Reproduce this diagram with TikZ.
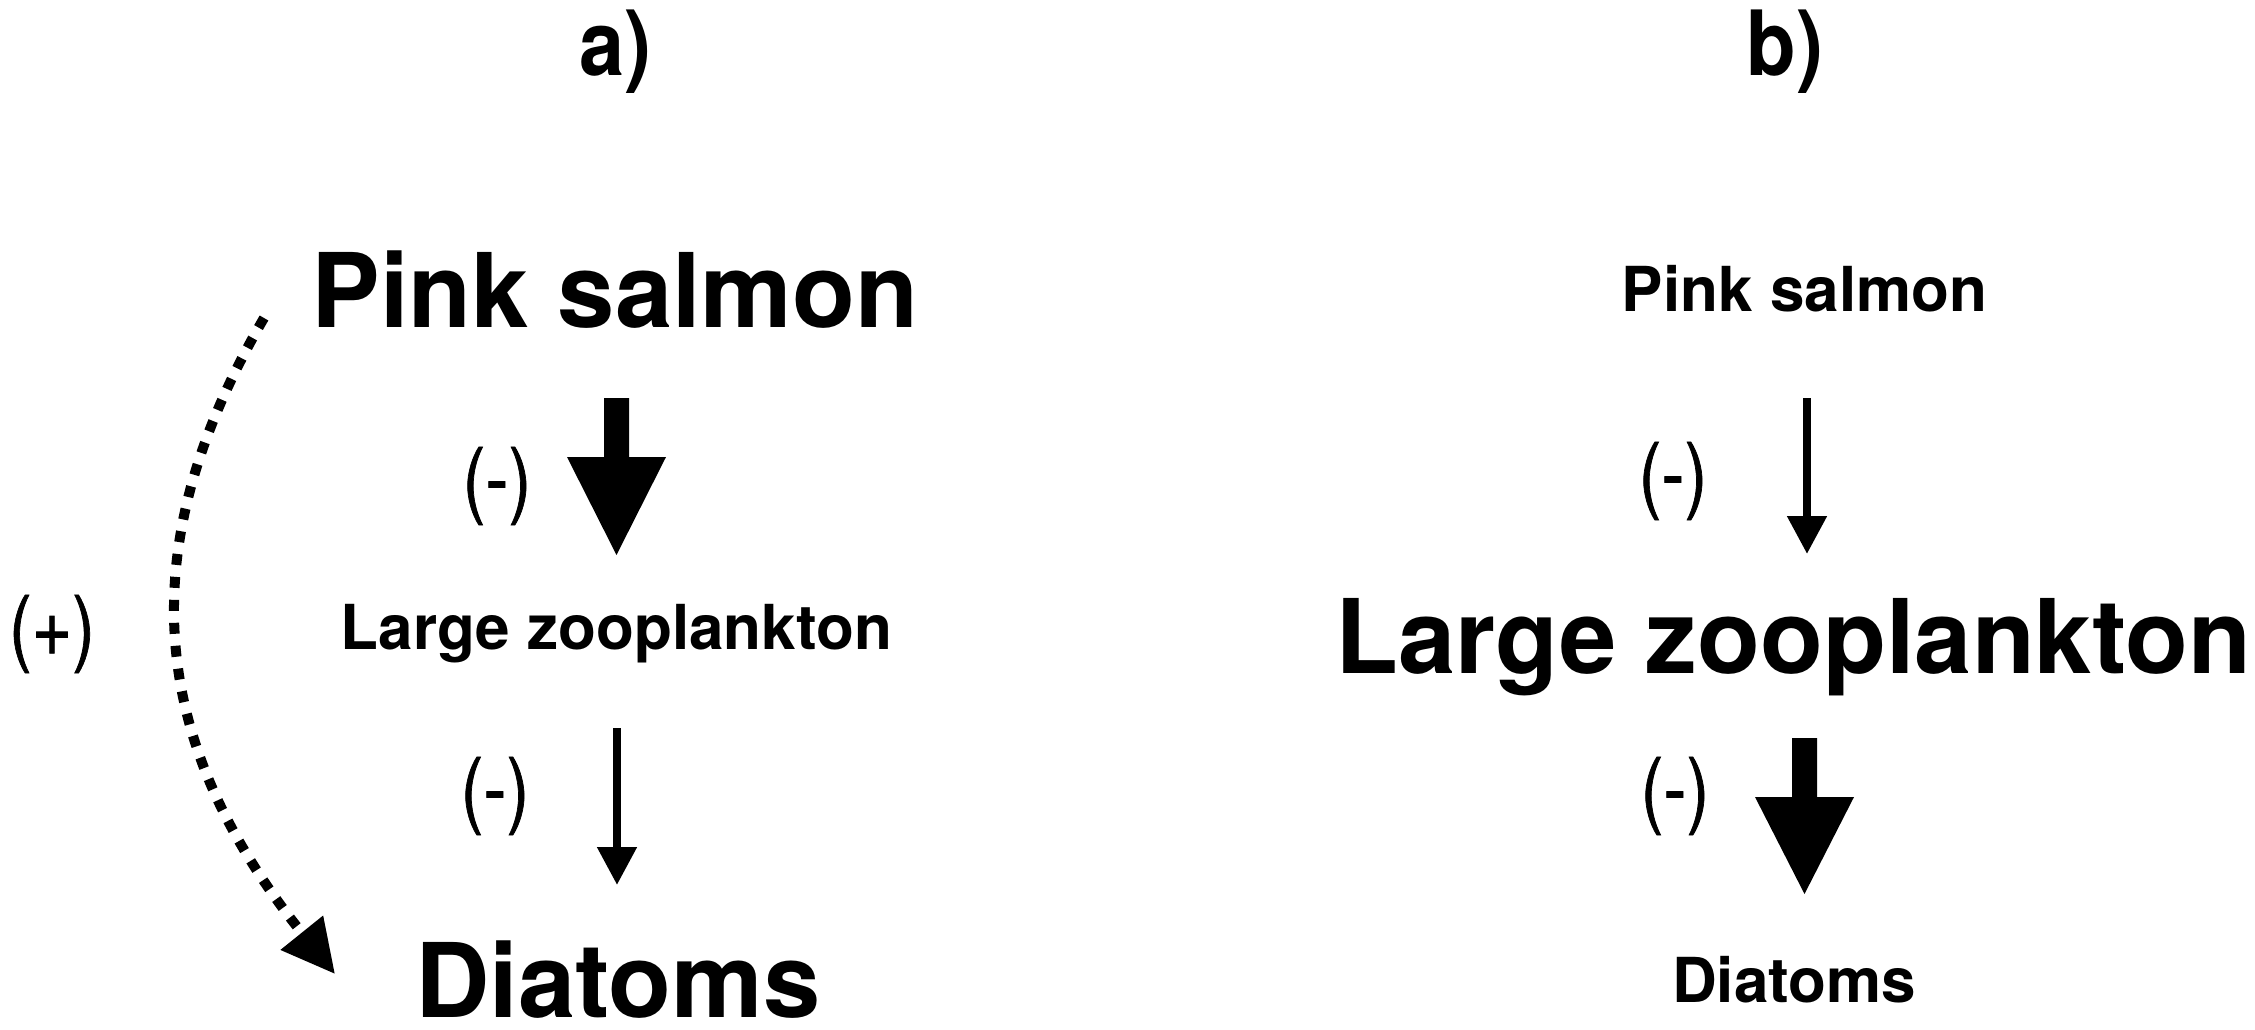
\documentclass[tikz,border=0pt]{standalone}
\usepackage{fontspec}
\setmainfont{TeX Gyre Heros}
\newfontfamily\signfont[FakeBold=1]{TeX Gyre Heros}
\usetikzlibrary{arrows.meta}
\tikzset{
  big/.style={font=\bfseries\fontsize{103}{110}\selectfont, inner sep=0pt, anchor=base},
  small/.style={font=\bfseries\fontsize{62}{70}\selectfont, inner sep=0pt, anchor=base},
  head/.style={font=\bfseries\fontsize{90}{96}\selectfont, inner sep=0pt, anchor=base, xscale=0.9},
  sign/.style={font=\signfont\fontsize{83}{90}\selectfont, inner sep=0pt, anchor=center, xscale=0.83},
  thinarrow/.style={line width=8pt, -{Triangle[length=38pt,width=38pt]}},
  blockarrow/.style={fill=black},
  dotarrow/.style={line width=10pt, dash pattern=on 11pt off 12pt, -{Triangle[length=53pt,width=52pt]}}
}
\begin{document}
\begin{tikzpicture}[x=1pt,y=-1pt]
\useasboundingbox (0,0) rectangle (2255,1030);
% panel a
\node[head] (ha) at (615,76) {a)};
\node[big] (psa) at (615,327) {Pink salmon};
\node[small] (lza) at (616.5,649) {Large zooplankton};
\node[big] (dia) at (618,1017) {Diatoms};
\node[sign] (sa1) at (497,486) {(-)};
\node[sign] (sa2) at (495,796) {(-)};
\node[sign] (plus) at (52,634) {(+)};
% big arrow a1
\coordinate (a1e) at (616.5,555);
\fill[blockarrow] (a1e) -- ++(49.5,-98) -- ++(-37,0) -- ++(0,-59) -- ++(-25,0) -- ++(0,59) -- ++(-37,0) -- cycle;
% thin arrow a2
\coordinate (a2s) at (617,728);
\coordinate (a2e) at (617,885);
\draw[thinarrow] (a2s) -- (a2e);
% dotted curved arrow
\coordinate (ds) at (264,318);
\coordinate (de) at (335,974);
\draw[dotarrow] (ds) .. controls (139,533) and (137,728) .. (de);
% panel b
\node[head] (hb) at (1785,76) {b)};
\node[small] (psb) at (1804.5,311) {Pink salmon};
\node[big] (lzb) at (1793.5,673) {Large zooplankton};
\node[small] (dib) at (1794,1002) {Diatoms};
\node[sign] (sb1) at (1673,481) {(-)};
\node[sign] (sb2) at (1675,796) {(-)};
\coordinate (b1s) at (1807,398);
\coordinate (b1e) at (1807,554);
\draw[thinarrow] (b1s) -- (b1e);
\coordinate (b2e) at (1804.5,894);
\fill[blockarrow] (b2e) -- ++(49.5,-97) -- ++(-37,0) -- ++(0,-59) -- ++(-25,0) -- ++(0,59) -- ++(-37,0) -- cycle;
\end{tikzpicture}
\end{document}
